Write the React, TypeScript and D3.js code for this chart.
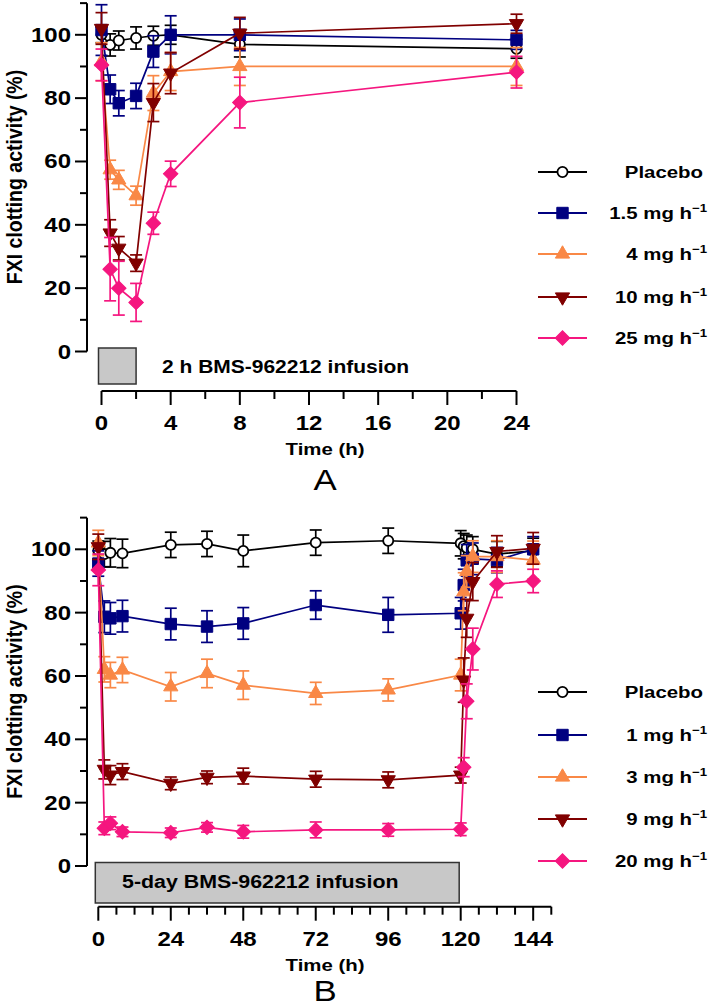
import React, { useEffect, useRef } from "react";
import * as d3 from "d3";

// legend / series
const labelsA = ["Placebo", "1.5 mg h", "4 mg h", "10 mg h", "25 mg h"];
const labelsB = ["Placebo", "1 mg h", "3 mg h", "9 mg h", "20 mg h"];
const colors = ["#000000", "#000080", "#f98846", "#800000", "#f5167f"];
const shapes = ["circle", "square", "triangle", "triangleDown", "diamond"];

// panel A (2 h infusion)
const timesA = [0, 0.5, 1, 2, 3, 4, 8, 24];
const placeboA = [100, 96.8, 98.2, 99, 99.7, 100, 97, 95.6];
const placeboAErr = [2.5, 3.5, 3, 3.5, 3, 3, 4, 3];
const dose15A = [101.5, 82.8, 78.4, 80.7, 94.7, 100, 100, 98.4];
const dose15AErr = [8, 4.5, 4, 4, 5, 6, 5, 3];
const dose4A = [91.5, 57.4, 54.2, 49.2, 81.6, 88.4, 90, 90];
const dose4AErr = [6, 3, 3, 3, 5.5, 6, 6, 6];
const dose10A = [102, 37.4, 32.6, 27.9, 78.6, 87.9, 100.5, 103.5];
const dose10AErr = [5, 4.2, 3.7, 2.6, 6, 6.5, 5, 3];
const dose25A = [90.5, 26, 20, 15.5, 40.5, 56.1, 78.6, 88.2];
const dose25AErr = [5, 10, 8.5, 6, 3.5, 4, 8, 5];

// panel B (5-day infusion)
const timesB = [0, 2, 4, 8, 24, 36, 48, 72, 96, 120, 121, 122, 124, 132, 144];
const placeboB = [99.6, 98.5, 98.9, 98.7, 101.4, 101.7, 99.5, 102.1, 102.7, 101.9, 101, 100.5, 100, 98.5, 99.5];
const placeboBErr = [3, 4, 4.5, 4.5, 4, 4, 5, 4, 4, 4, 4, 4, 4, 4, 4];
const dose1B = [95.5, 78.7, 78.2, 78.9, 76.4, 75.6, 76.6, 82.4, 79.3, 79.8, 88.7, 96.5, 97, 96.6, 100];
const dose1BErr = [4, 5, 5, 5, 5, 5, 5, 4.5, 5.5, 5, 5, 5, 5, 4, 4];
const dose3B = [102, 62.1, 60.3, 61.9, 56.6, 60.8, 57.1, 54.5, 55.6, 60.3, 86.6, 93, 97.7, 97.7, 96.6];
const dose3BErr = [4, 4, 4, 4, 4.5, 4.5, 4.5, 3.5, 3.5, 5, 6, 5, 5, 5, 6];
const dose9B = [100.8, 30.5, 28.7, 29.8, 26.1, 28, 28.4, 27.4, 27.2, 28.7, 58.7, 78.2, 89.8, 99.3, 100.3];
const dose9BErr = [4, 3, 3, 2.5, 2, 2, 2.5, 2.5, 2.5, 2.5, 7, 6, 6, 5, 5];
const dose20B = [93.5, 11.9, 13.5, 10.8, 10.5, 12.2, 10.8, 11.4, 11.4, 11.6, 31.2, 52, 68.5, 89, 90];
const dose20BErr = [5, 2, 2, 1.5, 1.5, 1.5, 2, 2.5, 2, 2, 3, 5.5, 6.6, 4.2, 3.7];

const yMajor = [0, 20, 40, 60, 80, 100];
const yMinor = [10, 30, 50, 70, 90, 110];
const xTicksA = [0, 4, 8, 12, 16, 20, 24];
const xMinorA = [2, 6, 10, 14, 18, 22];
const xTicksB = [0, 24, 48, 72, 96, 120, 144];
const xMinorB = d3.range(6, 151, 6).filter((d) => d % 24 !== 0);

const FONT = "'Liberation Sans', Arial, sans-serif";
const SX = 1.2; // picture is stretched horizontally

function symbolPath(shape) {
  if (shape === "circle") return d3.symbol().type(d3.symbolCircle).size(80)();
  if (shape === "square") return d3.symbol().type(d3.symbolSquare).size(130)();
  if (shape === "diamond") return d3.symbol().type(d3.symbolSquare).size(105)();
  return d3.symbol().type(d3.symbolTriangle).size(88)();
}
function symbolRotate(shape) {
  if (shape === "diamond") return 45;
  if (shape === "triangleDown") return 180;
  return 0;
}

function label(g, x, y, text, size, anchor, weight = "bold") {
  return g
    .append("text")
    .attr("transform", `translate(${x},${y}) scale(${SX},1)`)
    .attr("text-anchor", anchor)
    .attr("font-family", FONT)
    .attr("font-size", size)
    .attr("font-weight", weight)
    .attr("fill", "#000")
    .text(text);
}

function drawPanel(svg, p) {
  const g = svg.append("g");
  const x = d3.scaleLinear().domain(p.xDomain).range(p.xRange);
  const y = d3.scaleLinear().domain([0, 110]).range([p.yBase, p.yBase - 110 * 3.167]);
  const axisX = 87;

  // infusion box
  g.append("rect")
    .attr("x", x(0) - 3)
    .attr("y", p.yBase - 3.5)
    .attr("width", x(p.infusionEnd) - x(0) + 3)
    .attr("height", p.boxBottom - (p.yBase - 3.5))
    .attr("fill", "#c8c8c8")
    .attr("stroke", "#333")
    .attr("stroke-width", 1.5);
  label(g, p.boxTextX, p.boxTextY, p.boxText, p.boxTextSize, "start");

  // y axis
  g.append("line")
    .attr("x1", axisX).attr("x2", axisX)
    .attr("y1", y(0)).attr("y2", y(110))
    .attr("stroke", "#000").attr("stroke-width", 2);
  yMajor.forEach((v) => {
    g.append("line").attr("x1", axisX - 12).attr("x2", axisX).attr("y1", y(v)).attr("y2", y(v))
      .attr("stroke", "#000").attr("stroke-width", 2);
    label(g, 71, y(v) + 7, String(v), 20, "end");
  });
  yMinor.forEach((v) => {
    g.append("line").attr("x1", axisX - 7).attr("x2", axisX).attr("y1", y(v)).attr("y2", y(v))
      .attr("stroke", "#000").attr("stroke-width", 2);
  });
  g.append("text")
    .attr("transform", `translate(22,${p.yBase - 174.5}) scale(1.1,1) rotate(-90)`)
    .attr("text-anchor", "middle")
    .attr("font-family", FONT)
    .attr("font-size", 19.5)
    .attr("font-weight", "bold")
    .text("FXI clotting activity (%)");

  // x axis
  g.append("line")
    .attr("x1", x(p.xDomain[0])).attr("x2", x(p.xDomain[1]))
    .attr("y1", p.xAxisY).attr("y2", p.xAxisY)
    .attr("stroke", "#000").attr("stroke-width", 2);
  p.xTicks.forEach((t) => {
    g.append("line").attr("x1", x(t)).attr("x2", x(t)).attr("y1", p.xAxisY).attr("y2", p.xAxisY + 14)
      .attr("stroke", "#000").attr("stroke-width", 2);
    label(g, x(t), p.xAxisY + 39, String(t), 20, "middle");
  });
  p.xMinor.forEach((t) => {
    g.append("line").attr("x1", x(t)).attr("x2", x(t)).attr("y1", p.xAxisY).attr("y2", p.xAxisY + 8)
      .attr("stroke", "#000").attr("stroke-width", 2);
  });
  label(g, 325, p.xAxisY + 64, "Time (h)", 17, "middle");
  label(g, 325, p.panelLetterY, p.panelLetter, 29, "middle", "normal");

  // series
  const line = d3.line().x((d) => x(d[0])).y((d) => y(d[1]));
  p.values.forEach((vals, si) => {
    const col = colors[si];
    const pts = p.times.map((t, i) => [t, vals[i], p.errors[si][i]]);
    const sg = g.append("g");
    sg.append("path").attr("d", line(pts)).attr("fill", "none").attr("stroke", col).attr("stroke-width", 1.7);
    pts.forEach((d) => {
      const cx = x(d[0]);
      sg.append("line").attr("x1", cx).attr("x2", cx).attr("y1", y(d[1] - d[2])).attr("y2", y(d[1] + d[2]))
        .attr("stroke", col).attr("stroke-width", 1.7);
      [d[1] - d[2], d[1] + d[2]].forEach((v) => {
        sg.append("line").attr("x1", cx - 6).attr("x2", cx + 6).attr("y1", y(v)).attr("y2", y(v))
          .attr("stroke", col).attr("stroke-width", 1.7);
      });
    });
    pts.forEach((d) => {
      sg.append("path")
        .attr("d", symbolPath(shapes[si]))
        .attr("transform", `translate(${x(d[0])},${y(d[1])}) rotate(${symbolRotate(shapes[si])})`)
        .attr("fill", si === 0 ? "#fff" : col)
        .attr("stroke", col)
        .attr("stroke-width", si === 0 ? 1.8 : 1);
    });
  });

  // legend
  p.labels.forEach((name, si) => {
    const ly = p.legendY[si];
    const col = colors[si];
    g.append("line").attr("x1", 538).attr("x2", 587).attr("y1", ly).attr("y2", ly)
      .attr("stroke", col).attr("stroke-width", 1.8);
    g.append("path")
      .attr("d", symbolPath(shapes[si]))
      .attr("transform", `translate(562.5,${ly}) rotate(${symbolRotate(shapes[si])})`)
      .attr("fill", si === 0 ? "#fff" : col)
      .attr("stroke", col)
      .attr("stroke-width", si === 0 ? 1.8 : 1);
    const t = label(g, si === 0 ? 703 : 707, ly + 6, "", 17, "end");
    t.append("tspan").text(name);
    if (si > 0) t.append("tspan").attr("dy", -7).attr("font-size", 11).text("\u22121");
  });
}

export default function App() {
  const svgRef = useRef(null);

  useEffect(() => {
    const svg = d3.select(svgRef.current);
    svg.selectAll("*").remove();
    svg.append("rect").attr("width", 709).attr("height", 1008).attr("fill", "#fff");

    drawPanel(svg, {
      times: timesA,
      values: [placeboA, dose15A, dose4A, dose10A, dose25A],
      errors: [placeboAErr, dose15AErr, dose4AErr, dose10AErr, dose25AErr],
      labels: labelsA,
      xDomain: [0, 24],
      xRange: [101.5, 516.5],
      yBase: 351.5,
      xAxisY: 391,
      xTicks: xTicksA,
      xMinor: xMinorA,
      legendY: [172, 213, 254, 297, 338],
      infusionEnd: 2,
      boxBottom: 384,
      boxText: "2 h BMS-962212 infusion",
      boxTextX: 162,
      boxTextY: 373,
      boxTextSize: 17.5,
      panelLetter: "A",
      panelLetterY: 490,
    });

    drawPanel(svg, {
      times: timesB,
      values: [placeboB, dose1B, dose3B, dose9B, dose20B],
      errors: [placeboBErr, dose1BErr, dose3BErr, dose9BErr, dose20BErr],
      labels: labelsB,
      xDomain: [0, 150],
      xRange: [98.3, 551.3],
      yBase: 866,
      xAxisY: 906.7,
      xTicks: xTicksB,
      xMinor: xMinorB,
      legendY: [692, 735, 777, 819, 861],
      infusionEnd: 119.5,
      boxBottom: 903,
      boxText: "5-day BMS-962212 infusion",
      boxTextX: 122,
      boxTextY: 888,
      boxTextSize: 17.8,
      panelLetter: "B",
      panelLetterY: 1001,
    });
  }, []);

  return (
    <svg
      ref={svgRef}
      width={709}
      height={1008}
      style={{ position: "absolute", left: 0, top: 0, display: "block" }}
    />
  );
}
